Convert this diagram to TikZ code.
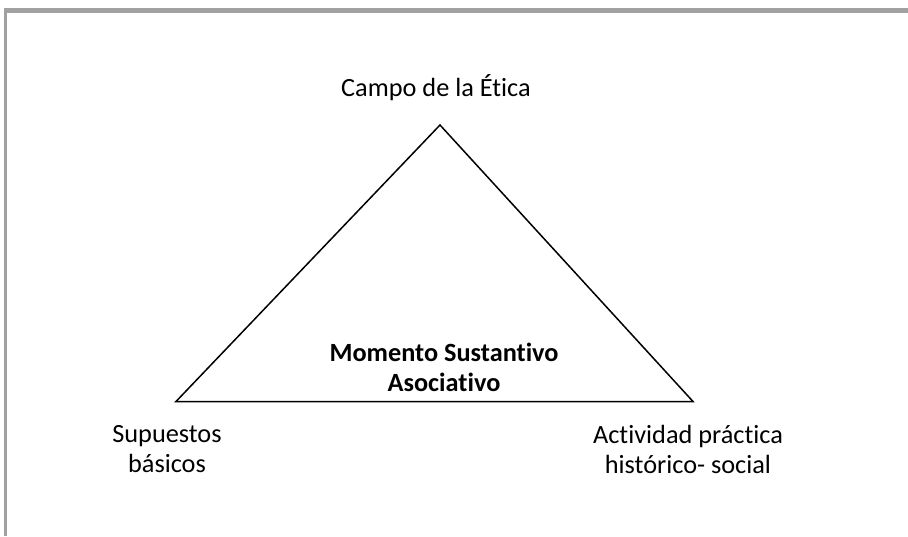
\documentclass[tikz,border=0pt]{standalone}
\usepackage{fontspec}
\setmainfont[RawFeature={-liga;-clig;-dlig}]{Carlito}
\begin{document}
\begin{tikzpicture}[x=1pt,y=-1pt,
  lbl/.style={inner sep=0pt, align=center, font=\fontsize{26.3}{30}\selectfont},
  tri/.style={draw=black, line width=1.5pt, line join=miter},
  frame/.style={fill=black!37, draw=none}]
\useasboundingbox (0,0) rectangle (908,536);
\fill[white] (0,0) rectangle (908,536);
% frame
\fill[frame] (4,8) rectangle (908,13);
\fill[frame] (4,8) rectangle (7.3,536);
% triangle
\coordinate (apex) at (440,125);
\coordinate (bl) at (176,401.5);
\coordinate (br) at (693,401.5);
\draw[tri] (apex) -- (bl) -- (br) -- cycle;
% labels
\node[lbl] (top) at (436,88) {Campo de la Ética};
\node[lbl] (center) at (444,367) {\bfseries Momento Sustantivo\\\bfseries Asociativo};
\node[lbl] (left) at (167,449) {Supuestos\\básicos};
\node[lbl] (right) at (688,449) {Actividad práctica\\histórico- social};
\end{tikzpicture}
\end{document}
